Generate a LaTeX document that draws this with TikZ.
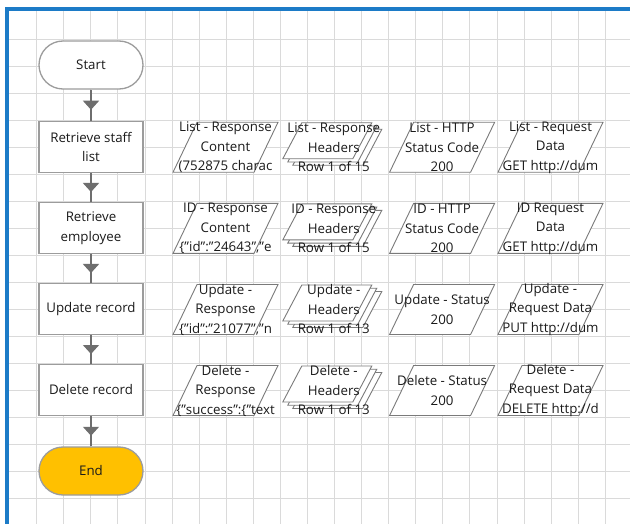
\documentclass[tikz,border=0pt]{standalone}
\usepackage{fontspec}
\setmainfont{Open Sans}
\usetikzlibrary{arrows.meta,decorations.markings,calc}
\definecolor{gridc}{HTML}{DADADA}
\definecolor{bluec}{HTML}{1C7BC7}
\definecolor{linec}{HTML}{6E6E6E}
\definecolor{boxc}{HTML}{9C9C9C}
\definecolor{shpc}{HTML}{7A7A7A}
\definecolor{endc}{HTML}{FFC000}
\definecolor{txt}{HTML}{1A1A1A}
\newcommand\dpar[1]{%
  \draw[dshape] ($(#1)+(-52.5,25)$) -- ($(#1)+(-28.5,-25)$) -- ($(#1)+(52.5,-25)$) -- ($(#1)+(28.5,25)$) -- cycle;}
\newcommand\hlayer[3]{%
  \draw[dshape] ($(#1)+(-51+#2,11.5+#3)$) -- ($(#1)+(-32+#2,-24.5+#3)$) -- ($(#1)+(38+#2,-24.5+#3)$) -- ($(#1)+(19+#2,11.5+#3)$) -- cycle;}
\newcommand\hpar[1]{\hlayer{#1}{10}{6.5}\hlayer{#1}{5}{3.2}\hlayer{#1}{0}{0}}
\begin{document}
\begin{tikzpicture}[x=1pt,y=-1pt,
  every node/.style={font=\fontsize{13.3}{19.5}\selectfont, text=txt, align=center, inner sep=0pt},
  term/.style={draw=boxc, line width=1.3pt, rounded corners=24pt, minimum width=104pt, minimum height=48pt},
  proc/.style={draw=boxc, line width=1.3pt, fill=white, minimum width=104pt, minimum height=51pt},
  conn/.style={draw=linec, line width=1.4pt, postaction={decorate},
    decoration={markings, mark=at position 0.5 with {\arrow[xshift=4.5pt]{Triangle[width=16pt,length=9pt]}}}},
  dshape/.style={draw=shpc, line width=0.9pt, fill=white}
]
\useasboundingbox (0,0) rectangle (630,524);
\fill[white] (0,0) rectangle (630,524);
% grid
\foreach \k in {1,...,22} \draw[gridc, line width=1pt] ({9.6+27.08*\k},11) -- ({9.6+27.08*\k},524);
\foreach \k in {1,...,19} \draw[gridc, line width=1pt] (9,{12+27.05*\k}) -- (630,{12+27.05*\k});
% border
\fill[bluec] (5,7) rectangle (630,11);
\fill[bluec] (5,7) rectangle (9,524);

% flow
\node[term, fill=white] (start) at (91,65) {Start};
\node[proc] (b1) at (91,147) {Retrieve staff\\list};
\node[proc] (b2) at (91,228) {Retrieve\\employee};
\node[proc] (b3) at (91,309) {Update record};
\node[proc] (b4) at (91,390) {Delete record};
\node[term, fill=endc] (end) at (91,471) {End};
\draw[conn] (start) -- (b1);
\draw[conn] (b1) -- (b2);
\draw[conn] (b2) -- (b3);
\draw[conn] (b3) -- (b4);
\draw[conn] (b4) -- (end);

% data shape centres
\foreach \r/\y in {1/147.3,2/228.4,3/309.5,4/390.5}
  \foreach \c/\x in {1/225.5,2/333.8,3/442.1,4/550.5}
    \coordinate (c\r\c) at (\x,\y);
\foreach \r in {1,2,3,4} {\dpar{c\r1}\hpar{c\r2}\dpar{c\r3}\dpar{c\r4}}

% texts
\node (t11) at (c11) {List - Response\\Content\\(752875 charac};
\node (t12) at (c12) {List - Response\\Headers\\Row 1 of 15};
\node (t13) at (c13) {List - HTTP\\Status Code\\200};
\node (t14) at (c14) {List - Request\\Data\\GET http://dum};
\node (t21) at (c21) {ID - Response\\Content\\\{"id":"24643","e};
\node (t22) at (c22) {ID - Response\\Headers\\Row 1 of 15};
\node (t23) at (c23) {ID - HTTP\\Status Code\\200};
\node (t24) at (c24) {ID Request\\Data\\GET http://dum};
\node (t31) at (c31) {Update -\\Response\\\{"id":"21077","n};
\node (t32) at (c32) {Update -\\Headers\\Row 1 of 13};
\node (t33) at (c33) {Update - Status\\200};
\node (t34) at (c34) {Update -\\Request Data\\PUT http://dum};
\node (t41) at (c41) {Delete -\\Response\\\{"success":\{"text};
\node (t42) at (c42) {Delete -\\Headers\\Row 1 of 13};
\node (t43) at (c43) {Delete - Status\\200};
\node (t44) at (c44) {Delete -\\Request Data\\DELETE http://d};
\end{tikzpicture}
\end{document}
